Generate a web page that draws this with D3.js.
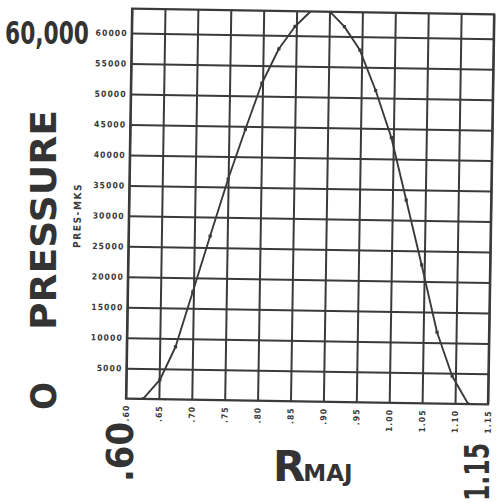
<!DOCTYPE html>
<html><head><meta charset="utf-8">
<script src="https://cdn.jsdelivr.net/npm/d3@7/dist/d3.min.js"></script>
<style>
body{margin:0;background:#fff}
svg{display:block}
</style>
</head><body>
<svg id="c" width="498" height="503"></svg>
<script>
// ---- data ----
const rmaj = [0.626,0.651,0.674,0.699,0.724,0.750,0.775,0.799,0.824,0.848,0.873,0.898,0.923,0.947,0.972,0.997,1.021,1.046,1.071,1.095,1.120];
const pres = [0,3150,8600,17700,26900,36300,44500,52100,57800,61500,64200,64300,61600,57800,51200,43500,33300,22700,11700,4550,0];
const xTickValues = [0.60,0.65,0.70,0.75,0.80,0.85,0.90,0.95,1.00,1.05,1.10,1.15];
const xTickLabels = [".60",".65",".70",".75",".80",".85",".90",".95","1.00","1.05","1.10","1.15"];
const yTickValues = [5000,10000,15000,20000,25000,30000,35000,40000,45000,50000,55000,60000];
const yTickLabels = ["5000","10000","15000","20000","25000","30000","35000","40000","45000","50000","55000","60000"];
const yTitle = "PRES-MKS";

// ---- layout ----
const W = 498, H = 503;
const L = 129, R = 491, T = 11.5, B = 401.5;
const ink = "#3a3a3a";
const printFont = "'DejaVu Sans Condensed','DejaVu Sans',sans-serif";
const handFont = "'DejaVu Sans',sans-serif";

const x = d3.scaleLinear().domain([0.60, 1.15]).range([L, R]);
const y = d3.scaleLinear().domain([0, 64000]).range([B, T]);

const svg = d3.select("#c");
svg.append("rect").attr("width", W).attr("height", H).attr("fill", "#fff");
svg.append("defs").append("clipPath").attr("id", "clip")
  .append("rect").attr("x", L).attr("y", T).attr("width", R - L).attr("height", B - T);

// the scanned sheet is slightly rotated
const g = svg.append("g").attr("transform", "rotate(0.9,310,206.5)");

// vertical grid lines
g.append("g").attr("transform", `translate(0,${B})`)
  .call(d3.axisBottom(x).tickValues(xTickValues).tickSize(-(B - T)).tickFormat(""))
  .call(a => a.select(".domain").remove())
  .call(a => a.selectAll("line").attr("stroke", ink).attr("stroke-width", 2));

// horizontal grid lines
g.append("g").attr("transform", `translate(${L},0)`)
  .call(d3.axisLeft(y).tickValues(yTickValues).tickSize(-(R - L)).tickFormat(""))
  .call(a => a.select(".domain").remove())
  .call(a => a.selectAll("line").attr("stroke", ink).attr("stroke-width", 2));

// frame
g.append("rect").attr("x", L).attr("y", T).attr("width", R - L).attr("height", B - T)
  .attr("fill", "none").attr("stroke", ink).attr("stroke-width", 2.2);

// y tick labels
g.append("g").attr("transform", `translate(${L - 4},0)`)
  .call(d3.axisLeft(y).tickValues(yTickValues).tickSize(0).tickPadding(0)
        .tickFormat((d, i) => yTickLabels[i]))
  .call(a => a.select(".domain").remove())
  .call(a => a.selectAll("text")
      .attr("font-family", printFont).attr("font-weight", "bold")
      .attr("font-size", 8.5).attr("letter-spacing", 1.1).attr("fill", ink));

// x tick labels (vertical)
g.append("g").attr("transform", `translate(0,${B + 6})`)
  .call(d3.axisBottom(x).tickValues(xTickValues).tickSize(0).tickPadding(0)
        .tickFormat((d, i) => xTickLabels[i]))
  .call(a => a.select(".domain").remove())
  .call(a => a.selectAll("text")
      .attr("font-family", printFont).attr("font-weight", "bold")
      .attr("font-size", 8.5).attr("letter-spacing", 1.1).attr("fill", ink)
      .attr("text-anchor", "end").attr("dy", "0.32em").attr("y", 0)
      .attr("transform", "rotate(-90)"));

// y axis title
g.append("text").attr("transform", `translate(81,219) rotate(-90)`)
  .attr("text-anchor", "middle")
  .attr("font-family", printFont).attr("font-weight", "bold")
  .attr("font-size", 10).attr("letter-spacing", 1.6).attr("fill", ink)
  .text(yTitle);

// curve
const pts = rmaj.map((r, i) => [r, pres[i]]);
g.append("path").datum(pts).attr("clip-path", "url(#clip)")
  .attr("fill", "none").attr("stroke", ink).attr("stroke-width", 1.9)
  .attr("stroke-linejoin", "round")
  .attr("d", d3.line().x(d => x(d[0])).y(d => y(d[1])).curve(d3.curveLinear));

g.append("g").attr("clip-path", "url(#clip)").selectAll("rect.pt").data(pts).join("rect")
  .attr("class", "pt")
  .attr("x", d => x(d[0]) - 1.6).attr("y", d => y(d[1]) - 1.6)
  .attr("width", 3.2).attr("height", 3.2).attr("fill", ink);

// ---- handwritten annotations ----
const hand = svg.append("g").attr("fill", "#333").attr("font-family", handFont).attr("font-weight", "bold");
function fitted(text, size, base, target) {
  const t = hand.append("text").attr("font-size", size).text(text);
  const len = t.node().getComputedTextLength();
  t.attr("transform", `${base} scale(${target / len},1)`);
  return t;
}
fitted("60,000", 32, "translate(5,44)", 84);
fitted("PRESSURE", 36, "translate(56,330) rotate(-90)", 220);
fitted("O", 36, "translate(56,410) rotate(-90)", 28);
fitted(".60", 38, "translate(133,482) rotate(-90)", 60);
const rm = hand.append("text").attr("x", 273).attr("y", 481);
rm.append("tspan").attr("font-size", 42).text("R");
rm.append("tspan").attr("font-size", 23).attr("dx", -2).text("MAJ");
fitted("1.15", 34, "translate(489,501) rotate(-90)", 58);
</script>
</body></html>
